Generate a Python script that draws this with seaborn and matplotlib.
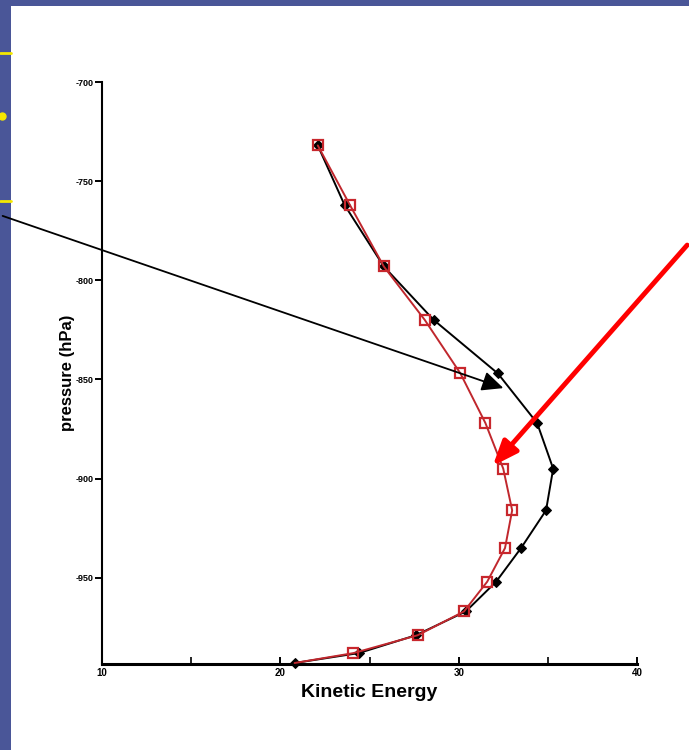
import matplotlib
matplotlib.use("Agg")
import matplotlib.pyplot as plt
import seaborn as sns
import numpy as np
import pandas as pd
from matplotlib.patches import Rectangle, FancyArrowPatch
from matplotlib.lines import Line2D

# Pressure levels (hPa, stored negative so the top of the profile is up)
pressure = [-732, -762, -793, -820, -847, -872, -895, -916, -935, -952, -967, -979, -988, -993]
# Kinetic energy profiles
ke_black = [22.1, 23.6, 25.8, 28.6, 32.2, 34.4, 35.3, 34.9, 33.5, 32.1, 30.4, 27.6, 24.4, 20.8]
ke_red = [22.1, 23.9, 25.8, 28.1, 30.1, 31.5, 32.5, 33.0, 32.6, 31.6, 30.3, 27.7, 24.1, 20.8]

y_ticks = [-700, -750, -800, -850, -900, -950]
x_ticks = [10, 20, 30, 40]
x_minor = [15, 25, 35]

sns.set_theme(style="ticks")
plt.rcParams["font.family"] = ["Liberation Sans", "DejaVu Sans"]
plt.rcParams["text.color"] = "black"
plt.rcParams["axes.labelcolor"] = "black"

fig = plt.figure(figsize=(6.89, 7.5), dpi=100)
fig.patch.set_facecolor("white")

# slide frame
frame = "#4a5698"
fig.add_artist(Rectangle((0, 1 - 6 / 750), 1, 6 / 750, transform=fig.transFigure,
                         facecolor=frame, edgecolor="none", zorder=0))
fig.add_artist(Rectangle((0, 0), 11 / 689, 1, transform=fig.transFigure,
                         facecolor=frame, edgecolor="none", zorder=0))
for yy in (53, 201):
    fig.add_artist(Line2D([0, 11 / 689], [1 - yy / 750] * 2, transform=fig.transFigure,
                          color="#f5e800", lw=2))
fig.add_artist(Line2D([2 / 689], [1 - 116 / 750], transform=fig.transFigure,
                      marker="o", markersize=5, color="#f5e800", lw=0))

ax = fig.add_axes([102 / 689, 86 / 750, 535 / 689, 582 / 750])
ax.set_facecolor("white")

df = pd.DataFrame({"pressure": pressure, "black": ke_black, "red": ke_red})

sns.lineplot(data=df, x="red", y="pressure", sort=False, estimator=None, ax=ax,
             color="#c0272d", lw=1.4, marker="s", markersize=6.5,
             markevery=list(range(len(pressure) - 1)),
             markerfacecolor="none", markeredgecolor="#c8272d", markeredgewidth=1.6,
             zorder=4, clip_on=False)
sns.lineplot(data=df, x="black", y="pressure", sort=False, estimator=None, ax=ax,
             color="black", lw=1.4, marker="D", markersize=5.5,
             markerfacecolor="black", markeredgecolor="black", zorder=3, clip_on=False)
# keep red line drawn above the black one
ax.lines[0].set_zorder(4)
ax.lines[1].set_zorder(3)

ax.set_xlim(10, 40)
ax.set_ylim(-993.5, -700)
ax.set_xticks(x_ticks)
ax.set_xticks(x_minor, minor=True)
ax.set_yticks(y_ticks)
ax.set_xticklabels([str(v) for v in x_ticks], fontsize=7, fontweight="bold")
ax.set_yticklabels([str(v) for v in y_ticks], fontsize=6.5, fontweight="bold")
ax.tick_params(axis="y", direction="out", length=5, width=1.4, pad=1, colors="black")
ax.tick_params(axis="x", which="major", direction="in", length=5, width=1.4, pad=3, colors="black")
ax.tick_params(axis="x", which="minor", direction="in", length=5, width=1.2, colors="black")
for s in ("top", "right"):
    ax.spines[s].set_visible(False)
for s in ("left", "bottom"):
    ax.spines[s].set_color("black")
    ax.spines[s].set_linewidth(1.5)
ax.spines["bottom"].set_linewidth(2.2)

ax.set_xlabel("Kinetic Energy", fontsize=14, fontweight="bold", labelpad=4, color="black")
ax.set_ylabel("pressure (hPa)", fontsize=12, fontweight="bold", color="black")
ax.yaxis.set_label_coords(-0.05, 0.5)

# callout arrows
def px(x, y):
    return (x / 689, 1 - y / 750)

fig.add_artist(FancyArrowPatch(px(0, 215), px(506, 389), transform=fig.transFigure,
                               arrowstyle="-|>,head_length=13,head_width=6", mutation_scale=1,
                               color="black", lw=1.3, zorder=10))
fig.add_artist(FancyArrowPatch(px(689, 243), px(491, 468), transform=fig.transFigure,
                               arrowstyle="-|>,head_length=15,head_width=6", mutation_scale=1,
                               color="#ff0000", lw=3.5, zorder=10))

fig.savefig("out.png", dpi=100, facecolor="white")
